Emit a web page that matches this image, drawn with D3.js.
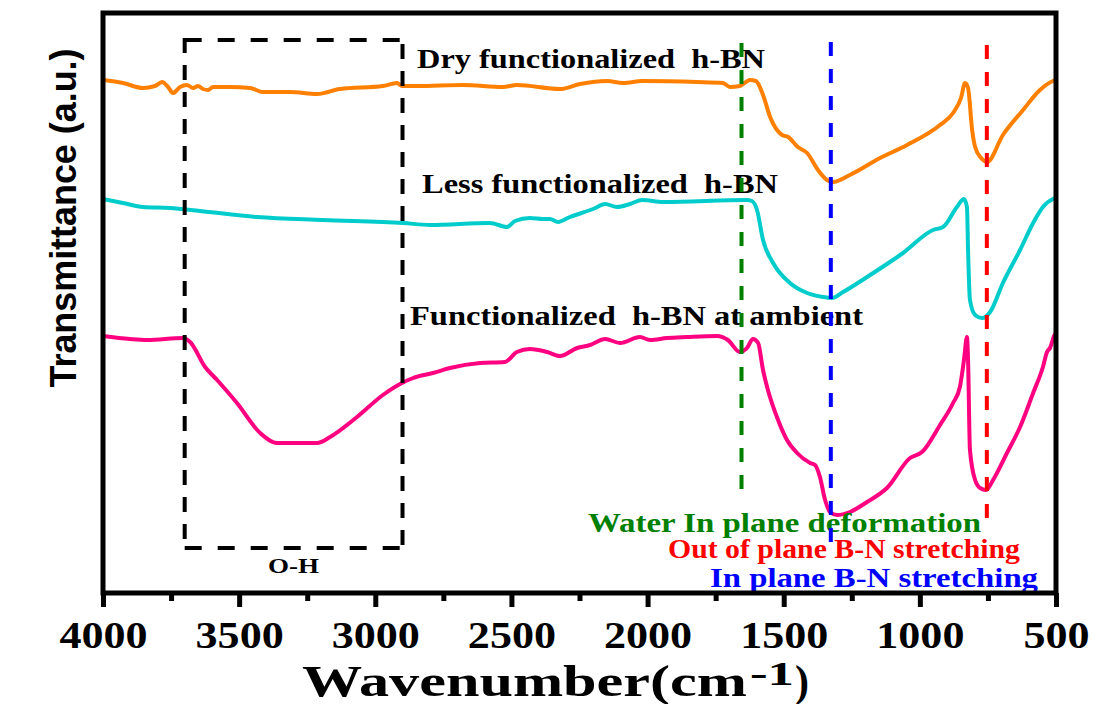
<!DOCTYPE html>
<html><head><meta charset="utf-8">
<script src="https://cdn.jsdelivr.net/npm/d3@7"></script>
<style>body{margin:0;background:#fff} text{white-space:pre}</style>
</head><body>
<svg id="c" width="1095" height="704"></svg>
<script>
// ---------- data ----------
const xTicks = [4000, 3500, 3000, 2500, 2000, 1500, 1000, 500];
const xMinorTicks = [3750, 3250, 2750, 2250, 1750, 1250, 750];

const seriesNames = ["Dry functionalized  h-BN", "Less functionalized  h-BN", "Functionalized  h-BN at ambient"];

const dryWavenumber = [4000,3927,3853,3809,3783,3761,3743,3717,3692,3669,3651,3633,3614,3596,3534,3460,3412,3313,3214,3130,2972,2920,2902,2847,2678,2531,2480,2322,2248,2149,2090,2017,1818,1723,1697,1661,1624,1602,1576,1550,1506,1484,1448,1414,1374,1341,1319,1257,1146,1047,926,878,849,834,823,808,797,775,753,695,621,559,511,500];
const dryT = [513,510,505,507,511,506,500,506,508,505,507,504,503,506,506,505,501,501,499,504,507,510,507,507,508,506,508,504,509,512,510,512,511,510,506,507,513,512,498,476,458,456,446,440,423,413,411,418,435,448,468,480,495,510,505,463,446,435,431,458,483,503,512,513];

const lessWavenumber = [4000,3927,3853,3754,3644,3434,3192,2898,2799,2579,2516,2487,2432,2384,2358,2329,2285,2200,2156,2112,2065,2020,1943,1635,1617,1598,1576,1539,1477,1414,1356,1323,1282,1194,1099,1062,952,915,864,838,827,823,816,797,772,742,695,632,584,548,511,500];
const lessT = [394,390,386,385,382,376,373,370,368,370,366,372,375,374,374,371,376,384,389,386,389,393,391,393,392,383,353,330,310,300,296,295,301,316,333,340,363,366,386,394,386,343,293,278,275,281,310,343,370,386,394,395];

const ambientWavenumber = [4000,3901,3838,3706,3680,3625,3581,3508,3423,3361,3214,3166,3067,2972,2902,2861,2788,2726,2615,2524,2480,2432,2369,2322,2259,2211,2156,2101,2028,1991,1929,1855,1745,1705,1661,1635,1613,1594,1576,1558,1525,1488,1451,1403,1385,1367,1348,1330,1304,1257,1194,1121,1036,992,926,878,853,838,827,823,816,797,779,757,731,680,632,584,548,533,522,507,500];
const ambientT = [257,254,253,255,251,226,213,190,160,150,150,156,176,198,210,215,220,225,230,231,241,244,241,237,245,248,254,250,256,253,255,256,257,253,241,245,254,250,223,203,176,153,140,130,128,116,93,81,78,81,91,105,135,141,168,190,206,233,256,233,143,113,105,103,113,140,166,200,226,241,245,257,260];

// band marker lines (wavenumber, top and bottom in a.u.)
const bandNames = ["Water In plane deformation", "Out of plane B-N stretching", "In plane B-N stretching"];
const bandWavenumber = [1655, 754, 1327];
const bandTop = [550, 548, 551];
const bandBottom = [93, 63, 38];

// O-H region box (wavenumber range and a.u. range)
const ohRange = [3700, 2900];
const ohLevels = [553, 45];

// ---------- drawing ----------
const svg = d3.select("#c");
const L = 103, R = 1056, T = 13, B = 593;
const x = d3.scaleLinear().domain([4000, 500]).range([L, R]);
const y = d3.scaleLinear().domain([0, 580]).range([B, T]);

const serif = "'Liberation Serif','Times New Roman',serif";
const sans = "'Liberation Sans',Arial,sans-serif";

function fitText(sel, width) {
  sel.attr("textLength", width).attr("lengthAdjust", "spacingAndGlyphs");
}

// curves
const colors = ["#FF8000", "#00CCCC", "#FF0080"];
const wns = [dryWavenumber, lessWavenumber, ambientWavenumber];
const vals = [dryT, lessT, ambientT];
const line = d3.line().x(d => x(d[0])).y(d => y(d[1])).curve(d3.curveMonotoneX);
wns.forEach((w, i) => {
  const pts = w.map((wv, j) => [wv, vals[i][j]]);
  svg.append("path").datum(pts).attr("d", line)
    .attr("fill", "none").attr("stroke", colors[i]).attr("stroke-width", 4)
    .attr("stroke-linejoin", "round").attr("stroke-linecap", "round");
});

// series labels
const seriesLabelPos = [[417, 68, 348], [422, 193, 356], [410, 325, 453]];
seriesNames.forEach((n, i) => {
  const p = seriesLabelPos[i];
  svg.append("text").attr("x", p[0]).attr("y", p[1]).text(n)
    .attr("font-family", serif).attr("font-weight", "bold").attr("font-size", 27)
    .attr("fill", "#000").call(fitText, p[2]);
});

// band labels
const bandColors = ["#008000", "#FF0000", "#0000FF"];
const bandLabelPos = [[588, 532, 393], [668, 558, 352], [710, 587, 328]];
bandNames.forEach((n, i) => {
  const p = bandLabelPos[i];
  svg.append("text").attr("x", p[0]).attr("y", p[1]).text(n)
    .attr("font-family", serif).attr("font-weight", "bold").attr("font-size", 27)
    .attr("fill", bandColors[i]).call(fitText, p[2]);
});

// O-H box
const bx0 = x(ohRange[0]), bx1 = x(ohRange[1]), by0 = y(ohLevels[0]), by1 = y(ohLevels[1]);
const box = svg.append("g").attr("stroke", "#000").attr("stroke-width", 4).attr("fill", "none");
box.append("line").attr("x1", bx0).attr("x2", bx1).attr("y1", by0).attr("y2", by0).attr("stroke-dasharray", "17,16");
box.append("line").attr("x1", bx0).attr("x2", bx1).attr("y1", by1).attr("y2", by1).attr("stroke-dasharray", "17,16");
box.append("line").attr("x1", bx0).attr("x2", bx0).attr("y1", by0 - 2).attr("y2", by1 + 2).attr("stroke-dasharray", "15,12");
box.append("line").attr("x1", bx1).attr("x2", bx1).attr("y1", by0 + 4).attr("y2", by1).attr("stroke-dasharray", "15,12");
svg.append("text").attr("x", (bx0 + bx1) / 2).attr("y", 573).attr("text-anchor", "middle").text("O-H")
  .attr("font-family", serif).attr("font-weight", "bold").attr("font-size", 20).call(fitText, 51);

// band dashed lines
bandWavenumber.forEach((w, i) => {
  svg.append("line").attr("x1", x(w)).attr("x2", x(w))
    .attr("y1", y(bandTop[i])).attr("y2", y(bandBottom[i]))
    .attr("stroke", bandColors[i]).attr("stroke-width", 4).attr("stroke-dasharray", "14,13");
});

// frame
svg.append("rect").attr("x", L).attr("y", T).attr("width", R - L).attr("height", B - T)
  .attr("fill", "none").attr("stroke", "#000").attr("stroke-width", 5);

// axes
const gMinor = svg.append("g").attr("transform", `translate(0,${B})`)
  .call(d3.axisBottom(x).tickValues(xMinorTicks).tickSize(8).tickFormat(""));
gMinor.select(".domain").remove();
gMinor.selectAll(".tick line").attr("stroke", "#000").attr("stroke-width", 5);

const gMajor = svg.append("g").attr("transform", `translate(0,${B})`)
  .call(d3.axisBottom(x).tickValues(xTicks).tickSize(14).tickFormat(d3.format("d")));
gMajor.select(".domain").remove();
gMajor.selectAll(".tick line").attr("stroke", "#000").attr("stroke-width", 5);
gMajor.selectAll(".tick text")
  .attr("y", 55).attr("dy", 0)
  .attr("font-family", serif).attr("font-weight", "bold").attr("font-size", 38).attr("fill", "#000")
  .each(function () {
    const w = this.getComputedTextLength();
    d3.select(this).attr("textLength", w * 1.16).attr("lengthAdjust", "spacingAndGlyphs");
  });

// axis titles
svg.append("text").attr("x", 302).attr("y", 696).text("Wavenumber(cm")
  .attr("font-family", serif).attr("font-weight", "bold").attr("font-size", 45).call(fitText, 445);
svg.append("text").attr("x", 750).attr("y", 685).text("-1")
  .attr("font-family", serif).attr("font-weight", "bold").attr("font-size", 34).call(fitText, 44);
svg.append("text").attr("x", 795).attr("y", 696).text(")")
  .attr("font-family", serif).attr("font-weight", "bold").attr("font-size", 45).call(fitText, 14);

svg.append("text").attr("transform", "translate(76,218) rotate(-90)").attr("text-anchor", "middle")
  .text("Transmittance (a.u.)")
  .attr("font-family", sans).attr("font-weight", "bold").attr("font-size", 37).call(fitText, 339);
</script>
</body></html>
